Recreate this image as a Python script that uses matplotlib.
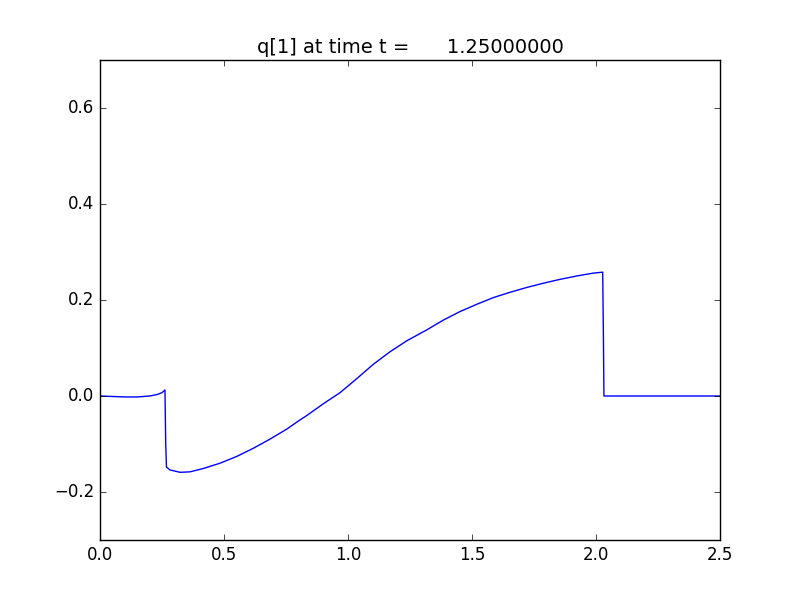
import matplotlib
matplotlib.use("Agg")
import matplotlib.pyplot as plt

plt.style.use("classic")

# q[1] profile
x = [0.0, 0.05, 0.10, 0.15, 0.20, 0.23, 0.25, 0.262, 0.265, 0.268, 0.282, 0.323,
     0.363, 0.417, 0.484, 0.551, 0.618, 0.685, 0.753, 0.806, 0.833, 0.901, 0.968,
     1.035, 1.102, 1.169, 1.237, 1.317, 1.384, 1.452, 1.519, 1.586, 1.653, 1.720,
     1.788, 1.855, 1.922, 1.989, 2.027, 2.030, 2.032, 2.2, 2.5]
q = [0.0, -0.001, -0.002, -0.002, 0.0, 0.003, 0.007, 0.0125, -0.10, -0.148, -0.154,
     -0.159, -0.158, -0.151, -0.140, -0.126, -0.109, -0.090, -0.069, -0.050, -0.041,
     -0.016, 0.007, 0.036, 0.066, 0.092, 0.115, 0.1375, 0.158, 0.176, 0.191, 0.205,
     0.216, 0.226, 0.235, 0.243, 0.250, 0.256, 0.258, 0.12, 0.0, 0.0, 0.0]

t = 1.25

fig = plt.figure(figsize=(8, 6), dpi=100)
ax = fig.add_axes([0.125, 0.1, 0.775, 0.8])
ax.plot(x, q, "b-", linewidth=1)
ax.set_xlim(0.0, 2.5)
ax.set_ylim(-0.3, 0.7)
ax.set_xticks([0.0, 0.5, 1.0, 1.5, 2.0, 2.5])
ax.set_yticks([-0.2, 0.0, 0.2, 0.4, 0.6])
ax.set_title("q[1] at time t = %15.8f" % t, fontsize=14)
fig.savefig("out.png", dpi=100, facecolor="white")
